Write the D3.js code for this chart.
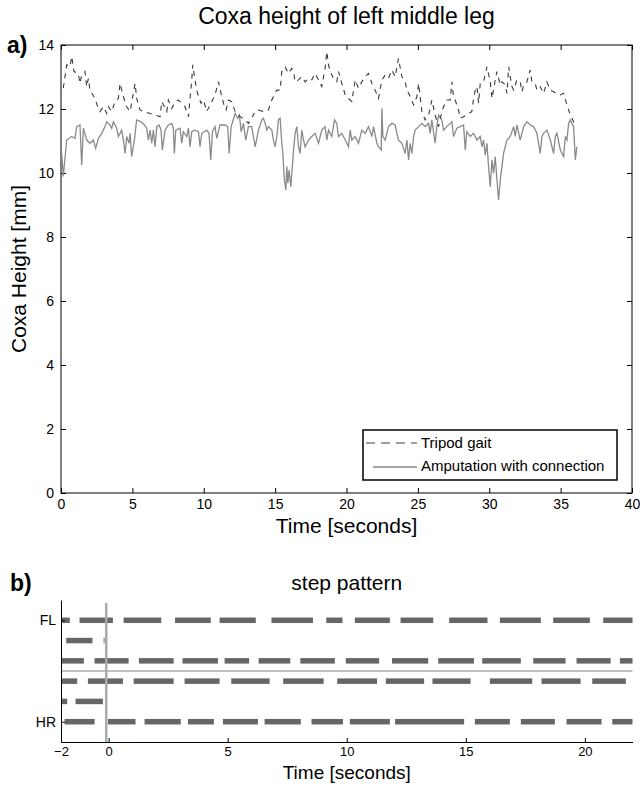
<!DOCTYPE html>
<html>
<head>
<meta charset="utf-8">
<script src="https://cdn.jsdelivr.net/npm/d3@7"></script>
<style>
  body { margin: 0; background: #fff; }
  svg { display: block; font-family: "Liberation Sans", Arial, Helvetica, sans-serif; }
</style>
</head>
<body>
<div id="chart"></div>
<script>
// Coxa height series, [time s, height mm]
const tripodSeries = [
  [0.16,12.65],[0.40,13.38],[0.63,13.32],[0.75,13.64],[0.91,13.17],[1.21,13.11],[1.33,12.80],[1.45,13.06],
  [1.68,13.17],[1.80,12.70],[1.92,12.96],[2.03,12.59],[2.38,12.33],[2.57,12.07],[2.73,11.92],[2.97,12.07],
  [3.20,11.86],[3.32,12.07],[3.55,11.92],[3.79,12.23],[4.02,12.33],[4.14,12.80],[4.37,12.39],[4.60,12.07],
  [4.84,11.92],[5.19,12.80],[5.30,12.33],[5.54,11.97],[5.77,11.92],[6.24,11.86],[6.59,11.81],[6.94,11.76],
  [7.06,12.23],[7.41,11.92],[7.52,12.28],[7.76,12.02],[7.99,12.23],[8.22,12.28],[8.46,12.18],[8.69,12.07],
  [8.93,11.76],[9.04,12.33],[9.16,12.91],[9.23,13.38],[9.39,12.91],[9.51,12.59],[9.63,12.39],[9.81,12.18],
  [9.98,12.28],[10.21,11.92],[10.56,12.23],[10.79,12.44],[11.03,12.85],[11.21,12.49],[11.38,12.18],[11.57,11.97],
  [11.73,12.28],[11.96,12.23],[12.20,11.92],[12.55,11.76],[12.90,11.66],[13.13,11.55],[13.36,11.71],[13.60,11.92],
  [13.83,11.97],[14.18,11.92],[14.53,11.97],[14.77,12.28],[15.12,12.59],[15.35,12.59],[15.47,13.17],[15.70,13.32],
  [15.93,13.11],[16.17,13.27],[16.29,13.17],[16.40,12.85],[16.64,12.91],[16.87,13.01],[17.10,12.85],[17.34,12.96],
  [17.57,12.91],[17.80,13.11],[18.04,12.91],[18.27,12.70],[18.50,13.27],[18.62,13.79],[18.74,13.38],[18.86,13.17],
  [19.09,12.96],[19.32,12.85],[19.44,13.17],[19.67,12.80],[19.91,12.44],[20.14,12.33],[20.37,12.23],[20.61,12.91],
  [20.84,12.65],[21.07,12.85],[21.31,13.01],[21.54,13.11],[21.78,12.80],[22.01,12.59],[22.24,12.33],[22.48,12.91],
  [22.71,13.06],[22.94,12.96],[23.18,13.22],[23.41,13.01],[23.64,13.58],[23.88,13.01],[24.11,12.85],[24.23,12.59],
  [24.46,12.39],[24.70,12.13],[24.93,12.39],[25.05,12.80],[25.28,11.92],[25.51,11.66],[25.75,11.81],[25.98,12.28],
  [26.21,11.81],[26.45,11.45],[26.68,11.92],[26.80,12.07],[27.03,12.28],[27.27,12.28],[27.38,12.85],[27.50,12.39],
  [27.61,12.28],[27.85,11.97],[27.97,11.71],[28.20,11.76],[28.43,11.81],[28.78,11.92],[28.90,12.33],[29.02,12.59],
  [29.14,12.70],[29.25,12.18],[29.37,12.80],[29.60,12.85],[29.84,13.32],[30.07,12.85],[30.19,12.33],[30.42,12.91],
  [30.54,13.17],[30.77,12.75],[30.89,12.85],[31.12,12.75],[31.24,12.49],[31.36,13.32],[31.47,13.01],[31.59,12.70],
  [31.71,12.59],[31.94,12.91],[32.17,12.85],[32.29,12.54],[32.41,12.75],[32.64,12.85],[32.87,13.22],[32.99,12.85],
  [33.22,12.80],[33.34,12.59],[33.57,12.70],[33.81,12.49],[34.04,12.85],[34.28,12.59],[34.51,12.54],[34.74,12.49],
  [34.98,12.44],[35.21,12.49],[35.44,12.13],[35.68,11.81],[35.79,11.71],[35.91,11.60],[36.03,11.45]
]

const amputationSeries = [
  [0.05,10.61],[0.16,9.89],[0.40,11.03],[0.75,11.14],[0.98,11.08],[1.10,11.45],[1.33,11.50],[1.45,10.25],
  [1.57,11.40],[1.80,11.03],[2.03,10.93],[2.27,11.03],[2.43,10.77],[2.62,11.08],[2.85,11.24],[3.08,11.45],
  [3.20,11.60],[3.43,11.50],[3.55,11.40],[3.67,11.60],[3.90,11.40],[4.02,11.14],[4.25,11.34],[4.37,11.03],
  [4.49,10.61],[4.60,11.14],[4.77,10.93],[4.84,11.24],[4.95,10.51],[5.14,11.03],[5.30,11.66],[5.61,11.60],
  [5.84,11.50],[6.00,11.40],[6.12,11.03],[6.24,11.34],[6.36,10.93],[6.47,11.34],[6.59,10.82],[6.71,11.45],
  [6.87,11.50],[7.01,11.34],[7.10,10.72],[7.29,11.34],[7.52,11.50],[7.76,11.55],[7.87,11.40],[7.94,10.61],
  [8.04,11.34],[8.34,11.40],[8.46,10.93],[8.57,11.29],[8.81,11.14],[8.93,11.40],[9.04,10.82],[9.16,11.29],
  [9.39,11.34],[9.63,11.29],[9.74,10.82],[9.86,11.24],[10.21,11.34],[10.37,11.24],[10.49,10.41],[10.61,11.29],
  [10.79,11.45],[10.91,11.08],[11.14,11.50],[11.50,11.50],[11.68,11.45],[11.78,10.61],[11.92,11.45],[12.20,11.86],
  [12.38,11.71],[12.50,11.81],[12.62,11.29],[12.78,11.55],[12.94,11.03],[13.13,11.45],[13.36,11.45],[13.60,10.82],
  [13.83,11.34],[14.07,11.66],[14.18,11.71],[14.30,11.55],[14.42,11.34],[14.53,11.45],[14.77,11.34],[14.88,11.03],
  [15.00,10.82],[15.12,11.14],[15.23,11.66],[15.35,11.71],[15.47,10.93],[15.54,10.61],[15.65,9.78],[15.75,9.47],
  [15.82,10.20],[15.89,9.68],[15.98,10.09],[16.10,9.57],[16.29,10.72],[16.40,11.24],[16.52,11.45],[16.64,10.82],
  [16.75,10.61],[16.87,11.34],[16.99,11.03],[17.10,10.82],[17.34,11.03],[17.57,11.14],[17.80,11.24],[18.04,10.93],
  [18.27,11.34],[18.50,11.45],[18.62,11.03],[18.74,11.34],[18.97,11.14],[19.16,11.66],[19.32,11.55],[19.44,11.14],
  [19.67,11.24],[19.91,11.03],[20.14,10.82],[20.26,11.34],[20.37,11.03],[20.61,11.14],[20.84,10.93],[21.07,11.34],
  [21.31,11.24],[21.54,11.45],[21.78,11.14],[21.89,11.45],[22.13,10.93],[22.24,10.82],[22.43,10.72],[22.48,12.02],
  [22.55,11.14],[22.71,11.03],[22.94,11.45],[23.18,11.55],[23.41,11.50],[23.53,11.24],[23.64,11.03],[23.88,10.93],
  [24.11,10.61],[24.23,11.03],[24.35,10.41],[24.46,10.93],[24.58,10.61],[24.70,11.14],[24.81,11.34],[25.05,11.45],
  [25.28,11.55],[25.51,11.45],[25.75,11.55],[25.86,11.24],[25.98,11.66],[26.21,10.93],[26.33,11.45],[26.45,11.81],
  [26.68,11.66],[26.80,11.34],[27.03,11.45],[27.27,11.55],[27.38,11.60],[27.50,11.14],[27.73,11.40],[27.97,11.45],
  [28.20,11.50],[28.32,10.72],[28.43,11.29],[28.67,11.14],[28.90,11.24],[29.14,11.03],[29.37,11.14],[29.49,10.82],
  [29.60,11.03],[29.72,10.56],[29.84,10.93],[29.95,10.20],[30.07,9.57],[30.19,10.41],[30.30,9.99],[30.42,10.51],
  [30.54,9.78],[30.65,9.16],[30.77,9.78],[30.89,10.20],[31.00,10.61],[31.24,11.03],[31.47,11.14],[31.71,11.45],
  [31.82,11.14],[31.94,11.50],[32.17,11.03],[32.41,11.45],[32.64,11.60],[32.87,11.50],[33.11,11.45],[33.34,11.24],
  [33.57,10.61],[33.69,11.14],[33.81,11.24],[34.04,11.34],[34.28,11.03],[34.51,10.61],[34.63,11.14],[34.74,11.24],
  [34.98,10.72],[35.21,10.51],[35.33,11.14],[35.44,11.03],[35.56,11.55],[35.68,11.66],[35.79,11.55],[35.91,11.45],
  [36.03,10.41],[36.14,10.82]
]

const legendLabels = ["Tripod gait", "Amputation with connection"]

// step pattern: stance intervals [start, end] in seconds, top row first
const stepFL = [[-2.0,-1.63],[-1.22,0.18],[0.63,2.21],[2.79,4.29],[4.66,6.18],[6.84,8.58],[9.14,9.82],
  [10.34,11.81],[12.26,13.63],[14.30,15.91],[16.43,18.15],[18.67,20.21],[20.77,22.0]]
const stepML = [[-1.78,-0.68],[-0.21,-0.17]]
const stepHL = [[-2.0,-1.04],[-0.59,0.84],[1.27,2.73],[3.10,4.59],[4.87,5.90],[6.30,7.63],[8.05,9.50],
  [9.96,11.36],[11.90,13.42],[13.84,15.34],[15.69,17.31],[17.83,19.19],[19.65,21.08],[21.47,22.0]]
const stepFR = [[-2.0,-1.32],[-0.87,0.60],[1.05,2.73],[3.19,4.66],[5.15,6.76],[7.33,9.03],[9.60,11.27],
  [11.64,13.25],[13.60,15.20],[16.01,17.79],[18.18,19.82],[20.31,21.72]]
const stepMR = [[-2.0,-1.74],[-1.39,-0.24]]
const stepHR = [[-1.85,-0.59],[-0.03,1.13],[1.51,3.03],[3.33,4.42],[4.80,6.27],[6.55,8.07],[8.52,9.84],
  [10.13,11.81],[12.03,14.93],[15.38,16.85],[17.31,18.74],[19.23,20.70],[21.15,22.0]]
const stepRows = [stepFL, stepML, stepHL, stepFR, stepMR, stepHR]
const stepRowLabels = ["FL", "", "", "", "", "HR"]
const amputationTime = -0.1

const svg = d3.select("#chart").append("svg")
  .attr("width", 641)
  .attr("height", 785)

// ---------- panel a ----------
const pa = { left: 61, right: 632, top: 45, bottom: 493 }
const x = d3.scaleLinear().domain([0, 40]).range([pa.left, pa.right])
const y = d3.scaleLinear().domain([0, 14]).range([pa.bottom, pa.top])

const styleAxis = (g, size) => {
  g.attr("font-family", null).attr("font-size", size)
  g.select(".domain").remove()
}

svg.append("g")
  .attr("transform", `translate(0,${pa.bottom})`)
  .call(d3.axisBottom(x).ticks(8).tickSize(-5).tickPadding(6))
  .call(styleAxis, 14)
svg.append("g")
  .attr("transform", `translate(0,${pa.top})`)
  .call(d3.axisTop(x).ticks(8).tickSize(-5).tickFormat(""))
  .call(styleAxis, 14)
svg.append("g")
  .attr("transform", `translate(${pa.left},0)`)
  .call(d3.axisLeft(y).ticks(7).tickSize(-5).tickPadding(7))
  .call(styleAxis, 14)
svg.append("g")
  .attr("transform", `translate(${pa.right},0)`)
  .call(d3.axisRight(y).ticks(7).tickSize(-5).tickFormat(""))
  .call(styleAxis, 14)

svg.append("rect")
  .attr("x", pa.left).attr("y", pa.top)
  .attr("width", pa.right - pa.left).attr("height", pa.bottom - pa.top)
  .attr("fill", "none").attr("stroke", "#000").attr("stroke-width", 1)

const line = d3.line().x((d) => x(d[0])).y((d) => y(d[1]))

svg.append("path")
  .datum(amputationSeries)
  .attr("fill", "none")
  .attr("stroke", "#8a8a8a")
  .attr("stroke-width", 1.3)
  .attr("d", line)

svg.append("path")
  .datum(tripodSeries)
  .attr("fill", "none")
  .attr("stroke", "#3a3a3a")
  .attr("stroke-width", 1.1)
  .attr("stroke-dasharray", "5,5")
  .attr("d", line)

// legend
const legend = svg.append("g").attr("transform", "translate(363,430)")
legend.append("rect")
  .attr("width", 254).attr("height", 50)
  .attr("fill", "#fff").attr("stroke", "#000").attr("stroke-width", 1.5)
legend.append("line")
  .attr("x1", 3).attr("x2", 54).attr("y1", 13).attr("y2", 13)
  .attr("stroke", "#3a3a3a").attr("stroke-dasharray", "9,6")
legend.append("line")
  .attr("x1", 10).attr("x2", 54).attr("y1", 37).attr("y2", 37)
  .attr("stroke", "#8a8a8a").attr("stroke-width", 1.3)
legendLabels.forEach((label, i) => {
  legend.append("text")
    .attr("x", 58).attr("y", 18 + i * 23)
    .attr("font-size", 15)
    .text(label)
})

svg.append("text")
  .attr("x", (pa.left + pa.right) / 2).attr("y", 24)
  .attr("text-anchor", "middle").attr("font-size", 23)
  .text("Coxa height of left middle leg")
svg.append("text")
  .attr("x", 7).attr("y", 53)
  .attr("font-size", 23).attr("font-weight", "bold")
  .text("a)")
svg.append("text")
  .attr("x", (pa.left + pa.right) / 2).attr("y", 533)
  .attr("text-anchor", "middle").attr("font-size", 21)
  .text("Time [seconds]")
svg.append("text")
  .attr("transform", `translate(26,${(pa.top + pa.bottom) / 2}) rotate(-90)`)
  .attr("text-anchor", "middle").attr("font-size", 21)
  .text("Coxa Height [mm]")

// ---------- panel b ----------
const pb = { left: 61, right: 632.5, top: 600, bottom: 742 }
const bx = d3.scaleLinear().domain([-2, 22]).range([pb.left, pb.right])
const by = d3.scaleLinear().domain([0, 7]).range([pb.bottom, pb.top])

stepRows.forEach((row, i) => {
  svg.append("g")
    .selectAll("rect")
    .data(row)
    .join("rect")
    .attr("x", (d) => bx(d[0]))
    .attr("width", (d) => bx(d[1]) - bx(d[0]))
    .attr("y", by(6 - i) - 2.75)
    .attr("height", 5.5)
    .attr("fill", "#666")
})

svg.append("line")
  .attr("x1", bx(-2)).attr("x2", bx(22))
  .attr("y1", by(3.5)).attr("y2", by(3.5))
  .attr("stroke", "#aaa").attr("stroke-width", 1.5)
svg.append("line")
  .attr("x1", bx(amputationTime)).attr("x2", bx(amputationTime))
  .attr("y1", by(6.85)).attr("y2", by(0))
  .attr("stroke", "#aaa").attr("stroke-width", 2.5)

const bxAxis = svg.append("g")
  .attr("transform", `translate(0,${pb.bottom})`)
  .call(d3.axisBottom(bx).tickValues([-2, 0, 5, 10, 15, 20]).tickSize(-4).tickSizeOuter(0).tickPadding(5))
bxAxis.attr("font-family", null).attr("font-size", 13)

const byAxis = svg.append("g")
  .attr("transform", `translate(${pb.left},0)`)
  .call(d3.axisLeft(by).tickValues([6, 1]).tickSize(-4).tickSizeOuter(0).tickPadding(5)
    .tickFormat((d) => stepRowLabels[6 - d]))
byAxis.attr("font-family", null).attr("font-size", 14)

svg.append("text")
  .attr("x", (pb.left + pb.right) / 2).attr("y", 590)
  .attr("text-anchor", "middle").attr("font-size", 21)
  .text("step pattern")
svg.append("text")
  .attr("x", 10).attr("y", 591)
  .attr("font-size", 23).attr("font-weight", "bold")
  .text("b)")
svg.append("text")
  .attr("x", (pb.left + pb.right) / 2).attr("y", 779)
  .attr("text-anchor", "middle").attr("font-size", 19)
  .text("Time [seconds]")
</script>
</body>
</html>
